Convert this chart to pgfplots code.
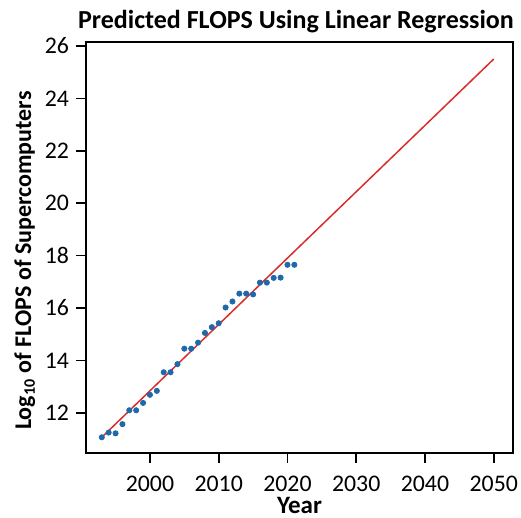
\documentclass[border=0pt]{standalone}
\usepackage{fontspec}
\setmainfont{Carlito}
\usepackage{pgfplots}
\pgfplotsset{compat=1.18}

\definecolor{dotblue}{RGB}{31,105,170}
\definecolor{fitred}{RGB}{215,45,45}

\begin{document}
\begin{tikzpicture}
  \begin{axis}[
      width=213.5pt, height=205.5pt,
      scale only axis,
      xmin=1990.7, xmax=2052.8,
      ymin=10.47, ymax=26.15,
      xtick={2000,2010,...,2050},
      ytick={12,14,...,26},
      tick align=outside,
      tick pos=left,
      major tick length=5pt,
      axis line style={line width=1pt},
      every tick/.style={black, line width=0.8pt},
      /pgf/number format/assume math mode=true,
      /pgf/number format/1000 sep={},
      ticklabel style={font=\fontsize{11.9}{13}\selectfont},
      xticklabel style={yshift=-3pt},
      every axis title shift=0pt,
      title={\bfseries Predicted FLOPS Using Linear Regression},
      title style={font=\fontsize{13}{15}\selectfont,
        at={(axis description cs:0.5,1)}, anchor=base,
        xshift=-1.75pt, yshift=6.5pt},
      xlabel={\bfseries Year},
      ylabel={\bfseries Log\textsubscript{10} of FLOPS of Supercomputers},
      xlabel style={font=\fontsize{12.5}{14}\selectfont, inner sep=0pt,
        at={(axis description cs:0.5,0)}, anchor=base, yshift=-30.5pt},
      ylabel style={font=\fontsize{12}{14}\selectfont,
        at={(axis description cs:-0.143,0.468)}, anchor=center},
    ]
    \addplot[fitred, line width=0.75pt] coordinates {
      (1993,11.07) (2050,25.50)
    };
    \addplot[only marks, mark=*, mark size=1.3pt, color=dotblue] coordinates {
      (1993,11.07) (1994,11.25) (1995,11.22) (1996,11.57) (1997,12.10)
      (1998,12.10) (1999,12.38) (2000,12.69) (2001,12.84) (2002,13.55)
      (2003,13.55) (2004,13.86) (2005,14.45) (2006,14.45) (2007,14.68)
      (2008,15.05) (2009,15.27) (2010,15.42) (2011,16.02) (2012,16.25)
      (2013,16.55) (2014,16.55) (2015,16.52) (2016,16.97) (2017,16.97)
      (2018,17.15) (2019,17.16) (2020,17.65) (2021,17.65)
    };
  \end{axis}
  \pgfresetboundingbox
  \useasboundingbox ([xshift=-43pt,yshift=-32.5pt]current axis.south west)
    rectangle ([xshift=4pt,yshift=21pt]current axis.north east);
\end{tikzpicture}
\end{document}
